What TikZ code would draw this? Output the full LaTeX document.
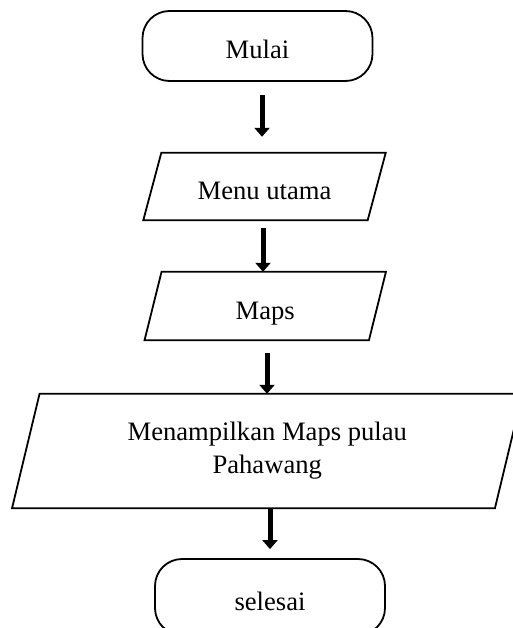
\documentclass[tikz,border=0pt]{standalone}
\usepackage{fontspec}
\setmainfont{Liberation Serif}
\usetikzlibrary{arrows.meta}
\begin{document}
\begin{tikzpicture}[x=1pt,y=-1pt,
  label font/.style={font=\fontsize{26.6}{33}\selectfont},
  one line/.style={text height=26pt, text depth=0pt},
  terminal/.style={draw, line width=1.8pt, rounded corners=27pt,
    minimum width=230pt, minimum height=70pt, inner sep=0pt, label font, one line},
  iobox/.style={inner sep=0pt, align=center, label font},
  outline/.style={line width=1.8pt, line join=miter},
  flow/.style={line width=5pt, -{Triangle[length=9pt,width=15pt]}}]
\useasboundingbox (0,0) rectangle (513,628);
\clip (0,0) rectangle (513,628);

% start and end terminals
\node[terminal] (mulai) at (257.5,46) {Mulai};
\node[terminal, minimum height=76pt] (selesai) at (270,597) {selesai};

% input/output boxes (parallelograms drawn around the nodes)
\node[iobox, one line, minimum width=224pt, minimum height=67pt] (menu) at (264.5,186.5) {Menu utama};
\node[iobox, one line, minimum width=224pt, minimum height=68pt] (maps) at (265.25,306) {Maps};
\node[iobox, minimum width=482.5pt, minimum height=114pt] (tampil) at (267.25,451)
  {Menampilkan Maps pulau\\Pahawang};

\draw[outline] ([xshift=9pt]menu.north west) -- ([xshift=9pt]menu.north east)
  -- ([xshift=-9pt]menu.south east) -- ([xshift=-9pt]menu.south west) -- cycle;
\draw[outline] ([xshift=8.5pt]maps.north west) -- ([xshift=8.5pt]maps.north east)
  -- ([xshift=-8.5pt]maps.south east) -- ([xshift=-8.5pt]maps.south west) -- cycle;
\draw[outline] ([xshift=13.75pt]tampil.north west) -- ([xshift=13.75pt]tampil.north east)
  -- ([xshift=-13.75pt]tampil.south east) -- ([xshift=-13.75pt]tampil.south west) -- cycle;

% flow arrows
\draw[flow, shorten <=13pt, shorten >=16pt] ([xshift=4.5pt]mulai.south) -- ([xshift=-2.5pt]menu.north);
\draw[flow, shorten <=8pt] ([xshift=-1.5pt]menu.south) -- ([xshift=-2.25pt]maps.north);
\draw[flow, shorten <=13pt] ([xshift=1.75pt]maps.south) -- ([xshift=-0.25pt]tampil.north);
\draw[flow, shorten >=9pt] ([xshift=2.75pt]tampil.south) -- (selesai.north);
\end{tikzpicture}
\end{document}
